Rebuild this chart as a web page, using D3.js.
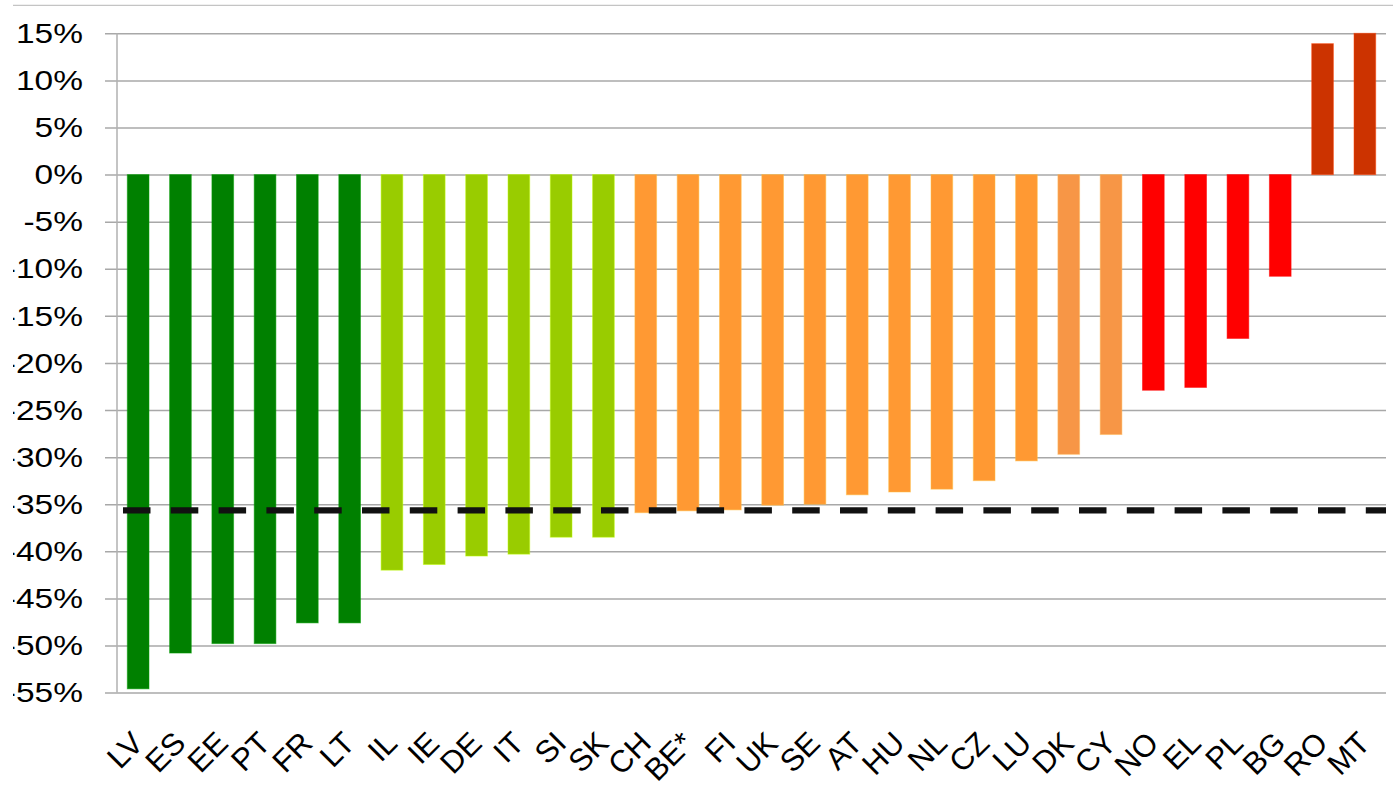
<!DOCTYPE html>
<html>
<head>
<meta charset="utf-8">
<script src="https://cdn.jsdelivr.net/npm/d3@7"></script>
<style>
  html, body { margin: 0; padding: 0; background: #fff; }
  svg { display: block; }
  text { font-family: "Liberation Sans", Arial, sans-serif; fill: #000; }
</style>
</head>
<body>
<svg id="chart" width="1393" height="803"></svg>
<script>
// Change per country (%), sorted from largest fall to largest rise
const countries = ["LV","ES","EE","PT","FR","LT","IL","IE","DE","IT","SI","SK","CH","BE*","FI","UK","SE","AT","HU","NL","CZ","LU","DK","CY","NO","EL","PL","BG","RO","MT"];
const changes   = [-54.6,-50.8,-49.8,-49.8,-47.6,-47.6,-42.0,-41.4,-40.5,-40.3,-38.5,-38.5,-35.9,-35.7,-35.6,-35.1,-35.0,-34.0,-33.7,-33.4,-32.5,-30.4,-29.7,-27.6,-22.9,-22.6,-17.4,-10.8,13.9,15.0];
const groups    = ["g1","g1","g1","g1","g1","g1","g2","g2","g2","g2","g2","g2","g3","g3","g3","g3","g3","g3","g3","g3","g3","g3","g4","g4","g5","g5","g5","g5","g6","g6"];
const average   = -35.66;
const yTicks    = [15,10,5,0,-5,-10,-15,-20,-25,-30,-35,-40,-45,-50,-55];

const groupColors = { g1: "#008000", g2: "#99cc00", g3: "#ff9933", g4: "#f79646", g5: "#ff0000", g6: "#cc3300" };

const svg = d3.select("#chart");
const plot = { left: 117, right: 1386, top: 33.3, bottom: 692.6 };

const x = d3.scaleBand()
  .domain(countries)
  .range([plot.left, plot.right])
  .paddingInner(0.487)
  .paddingOuter(0.2435);

const y = d3.scaleLinear()
  .domain([-55, 15])
  .range([plot.bottom, plot.top]);

// Clip region for the whole drawing (left edge trimmed)
svg.append("defs").append("clipPath").attr("id", "frame")
  .append("rect").attr("x", 13).attr("y", 0).attr("width", 1393).attr("height", 803);

const root = svg.append("g").attr("clip-path", "url(#frame)");

// Thin top border
root.append("line")
  .attr("x1", 13).attr("x2", 1393).attr("y1", 5.3).attr("y2", 5.3)
  .attr("stroke", "#c4c4c4").attr("stroke-width", 1.2);

// Horizontal gridlines with tick stubs to the left of the axis
const yAxis = d3.axisLeft(y)
  .tickValues(yTicks)
  .tickSize(-(plot.right - plot.left))
  .tickFormat("");
const gGrid = root.append("g").attr("transform", `translate(${plot.left},0)`).call(yAxis);
gGrid.select(".domain").remove();
gGrid.selectAll(".tick line")
  .attr("x1", -12)
  .attr("stroke", "#a8a8a8").attr("stroke-width", 1.5);

// Vertical axis line
root.append("line")
  .attr("x1", plot.left).attr("x2", plot.left)
  .attr("y1", y(15)).attr("y2", y(-55))
  .attr("stroke", "#b0b0b0").attr("stroke-width", 1.5);

// Y tick labels
root.append("g").selectAll("text")
  .data(yTicks)
  .join("text")
  .attr("transform", d => `translate(83,${y(d)}) scale(1.24,1)`)
  .attr("text-anchor", "end")
  .attr("dy", "0.36em")
  .style("font-size", "27px")
  .text(d => d + "%");

// Bars
const data = countries.map((c, i) => ({ c, v: changes[i], g: groups[i] }));
root.append("g").selectAll("rect")
  .data(data)
  .join("rect")
  .attr("x", d => x(d.c))
  .attr("width", x.bandwidth())
  .attr("y", d => y(Math.max(0, d.v)))
  .attr("height", d => Math.abs(y(d.v) - y(0)))
  .attr("fill", d => groupColors[d.g])
  .attr("stroke", d => d3.color(groupColors[d.g]).brighter(0.6))
  .attr("stroke-opacity", 0.5)
  .attr("stroke-width", 1);

// Average reference line
root.append("line")
  .attr("x1", 123).attr("x2", plot.right)
  .attr("y1", y(average)).attr("y2", y(average))
  .attr("stroke", "#111").attr("stroke-width", 6.3)
  .attr("stroke-dasharray", "27.5 20.3");

// Category labels, rotated
root.append("g").selectAll("text")
  .data(countries)
  .join("text")
  .attr("transform", d => `translate(${x(d) + x.bandwidth() / 2 + 7},745) rotate(-45)`)
  .attr("text-anchor", "end")
  .style("font-size", "31px")
  .text(d => d);
</script>
</body>
</html>
